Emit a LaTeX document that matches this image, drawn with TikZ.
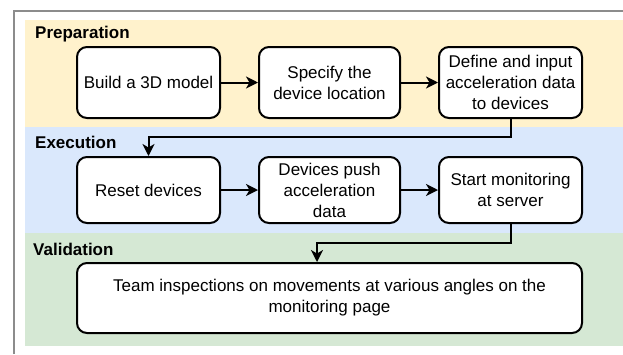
\documentclass[tikz,border=0pt]{standalone}
\usepackage{fontspec}
\setmainfont{Liberation Sans}
\usetikzlibrary{arrows.meta}
\definecolor{prepfill}{HTML}{FFF2CC}
\definecolor{execfill}{HTML}{DAE8FC}
\definecolor{valfill}{HTML}{D5E8D4}
\definecolor{framegray}{HTML}{8C8C8C}
\tikzset{
  stepbox/.style={draw=black, line width=2pt, rounded corners=10pt, fill=white,
    align=center, inner sep=2pt, minimum height=71pt,
    font=\fontsize{17}{21}\selectfont},
  heading/.style={anchor=west, inner sep=0pt, font=\fontsize{17}{21}\selectfont\bfseries},
  flow/.style={line width=2pt, -{Stealth[length=12pt,width=12pt,inset=3.5pt]}},
}
\begin{document}
\begin{tikzpicture}[x=1pt,y=-1pt]
\useasboundingbox (0,0) rectangle (623,354);
\fill[white] (0,0) rectangle (623,354);
% bands
\fill[prepfill] (25,20) rectangle (623,127);
\fill[execfill] (25,127) rectangle (623,233);
\fill[valfill] (25,233) rectangle (623,346);
% frame
\draw[framegray, line width=2pt] (13.5,354) -- (13.5,10.5) -- (623,10.5);
% headings
\node[heading] (hprep) at (35,34) {Preparation};
\node[heading] (hexec) at (35,142) {Execution};
\node[heading] (hval) at (33,249) {Validation};
% boxes
\node[stepbox, minimum width=143pt] (build) at (148.5,82.5) {Build a 3D model};
\node[stepbox, minimum width=141pt] (spec) at (329.5,82.5) {Specify the\\device location};
\node[stepbox, minimum width=143pt] (define) at (510.5,82.5) {Define and input\\acceleration data\\to devices};
\node[stepbox, minimum width=143pt, minimum height=66pt] (reset) at (148.5,190) {Reset devices};
\node[stepbox, minimum width=141pt, minimum height=66pt] (push) at (329.5,190) {Devices push\\acceleration\\data};
\node[stepbox, minimum width=143pt, minimum height=66pt] (start) at (510.5,190) {Start monitoring\\at server};
\node[stepbox, minimum width=505pt, minimum height=70pt] (team) at (329.5,298) {Team inspections on movements at various angles on the\\monitoring page};
% connectors
\draw[flow] (build) -- (spec);
\draw[flow] (spec) -- (define);
\draw[flow] (define.south) -- ++(0,18) -| (reset.north);
\draw[flow] (reset) -- (push);
\draw[flow] (push) -- (start);
\draw[flow] (start.south) -- ++(0,19) -| ([xshift=-12.5pt]team.north);
\end{tikzpicture}
\end{document}
